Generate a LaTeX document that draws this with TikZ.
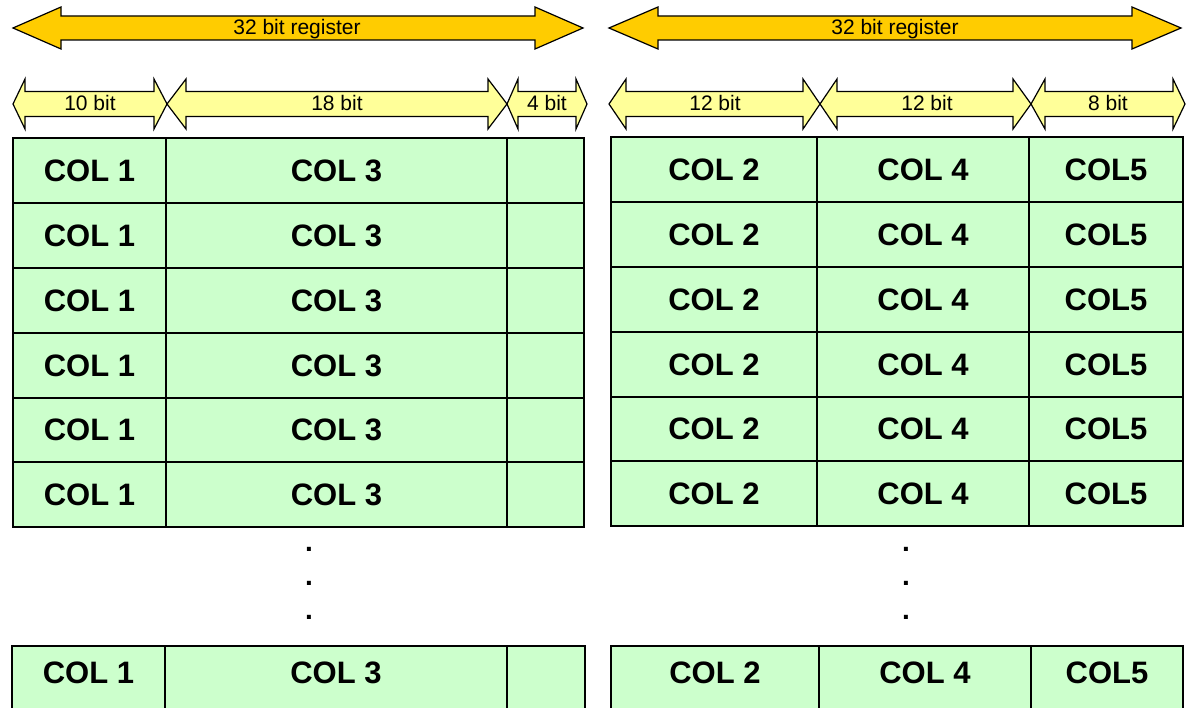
\documentclass[tikz,border=0pt]{standalone}
\usepackage{fontspec}
\setmainfont{Liberation Sans}
\definecolor{regorange}{HTML}{FFCC00}
\definecolor{fieldyellow}{HTML}{FFFF99}
\definecolor{cellgreen}{HTML}{CCFFCC}

% double-headed block arrow:
% #1 style, #2 left tip x, #3 right tip x, #4 centre y,
% #5 left head length, #6 right head length, #7 shaft half-height, #8 head half-height
\newcommand\dblarrow[8]{%
  \draw[#1] ({#2},{#4}) -- ({#2+#5},{#4-#8}) -- ({#2+#5},{#4-#7}) -- ({#3-#6},{#4-#7})
    -- ({#3-#6},{#4-#8}) -- ({#3},{#4}) -- ({#3-#6},{#4+#8}) -- ({#3-#6},{#4+#7})
    -- ({#2+#5},{#4+#7}) -- ({#2+#5},{#4+#8}) -- cycle;}

% table cell: #1 name, #2 x1, #3 x2, #4 y1, #5 y2, #6 text
\newcommand\tcell[6]{%
  \node[cell, minimum width={#3-#2}, minimum height={#5-#4}] (#1) at ({(#2+#3)/2},{(#4+#5)/2}) {#6};}

% open-ended last row: baseline kept at the cell centre
\newcommand\lcell[6]{%
  \node[cell, minimum width={#3-#2}, text height=37pt, text depth=37pt] (#1) at ({(#2+#3)/2},{(#4+#5)/2}) {#6};}

\begin{document}
\begin{tikzpicture}[x=1pt, y=-1pt,
  bigarrow/.style={draw=black, line width=1.2pt, fill=regorange, line join=miter},
  fieldarrow/.style={draw=black, line width=1.2pt, fill=fieldyellow, line join=miter},
  arrowlabel/.style={anchor=base, inner sep=0pt, font=\fontsize{21}{25}\selectfont},
  cell/.style={draw=black, line width=1.5pt, fill=cellgreen, inner sep=0pt, outer sep=0pt,
    font=\bfseries\fontsize{31}{37}\selectfont},
  dotmark/.style={inner sep=0pt, font=\bfseries\fontsize{28}{34}\selectfont}]

\useasboundingbox (0,0) rectangle (1188,708);
\clip (0,0) rectangle (1188,708);
\fill[white] (0,0) rectangle (1188,708);

% 32 bit registers
\dblarrow{bigarrow}{13}{583}{28}{48}{48}{12}{21}
\node[arrowlabel] (regA) at (297,35) {32 bit register};
\dblarrow{bigarrow}{609}{1181}{28}{49}{49}{12}{21}
\node[arrowlabel] (regB) at (895,35) {32 bit register};

% field widths, first register
\dblarrow{fieldarrow}{13}{167}{104}{12}{13}{12.5}{25}
\node[arrowlabel] (wA1) at (90,111) {10 bit};
\dblarrow{fieldarrow}{167}{507}{104}{19}{19}{12.5}{25}
\node[arrowlabel] (wA2) at (337,111) {18 bit};
\dblarrow{fieldarrow}{507}{587}{104}{11}{11}{12.5}{25}
\node[arrowlabel] (wA3) at (547,111) {4 bit};

% field widths, second register
\dblarrow{fieldarrow}{609}{820}{104}{17}{17}{12.5}{25}
\node[arrowlabel] (wB1) at (715,111) {12 bit};
\dblarrow{fieldarrow}{820}{1031}{104}{17}{18}{12.5}{25}
\node[arrowlabel] (wB2) at (927,111) {12 bit};
\dblarrow{fieldarrow}{1031}{1185}{104}{14}{12}{12.5}{25}
\node[arrowlabel] (wB3) at (1108,111) {8 bit};

% first register table
\foreach \t/\b/\i in {138/203/1, 203/268/2, 268/333/3, 333/398/4, 398/462/5, 462/527/6} {
  \tcell{a\i c1}{13}{166}{\t}{\b}{COL 1}
  \tcell{a\i c3}{166}{507}{\t}{\b}{COL 3}
  \tcell{a\i cx}{507}{584}{\t}{\b}{}
}
% second register table
\foreach \t/\b/\i in {137/202/1, 202/267/2, 267/332/3, 332/397/4, 397/461/5, 461/526/6} {
  \tcell{b\i c2}{611}{817}{\t}{\b}{COL 2}
  \tcell{b\i c4}{817}{1029}{\t}{\b}{COL 4}
  \tcell{b\i c5}{1029}{1183}{\t}{\b}{COL5}
}

% continuation dots
\foreach \y/\k in {549/1, 583/2, 617/3} {
  \node[dotmark] (dA\k) at (309,\y) {.};
  \node[dotmark] (dB\k) at (906,\y) {.};
}

% last rows
\lcell{an c1}{12}{165}{646}{720}{COL 1}
\lcell{an c3}{165}{507}{646}{720}{COL 3}
\lcell{an cx}{507}{585}{646}{720}{}
\lcell{bn c2}{611}{819}{646}{720}{COL 2}
\lcell{bn c4}{819}{1031}{646}{720}{COL 4}
\lcell{bn c5}{1031}{1183}{646}{720}{COL5}

\end{tikzpicture}
\end{document}
